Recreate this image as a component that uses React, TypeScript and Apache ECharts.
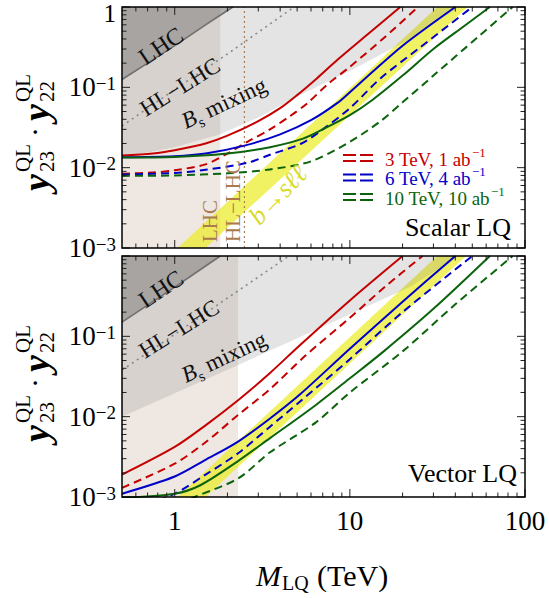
import React, { useEffect, useRef } from 'react';
import * as echarts from 'echarts';

const FONT = "'Liberation Serif', 'Times New Roman', serif";

const X_MIN = 0.5;
const X_MAX = 100;
const Y_MIN = 0.001;
const Y_MAX = 1;

// tick positions
const xMajorTicks = [1, 10, 100];
const xMinorTicks = [0.6, 0.7, 0.8, 0.9, 2, 3, 4, 5, 6, 7, 8, 9, 20, 30, 40, 50, 60, 70, 80, 90];
const yMajorTicks = [0.001, 0.01, 0.1, 1];
const yMinorTicks = [
  0.002, 0.003, 0.004, 0.005, 0.006, 0.007, 0.008, 0.009,
  0.02, 0.03, 0.04, 0.05, 0.06, 0.07, 0.08, 0.09,
  0.2, 0.3, 0.4, 0.5, 0.6, 0.7, 0.8, 0.9,
];

// ---------- Scalar LQ (top panel) ----------
const scalarLhcBandEdge = 1.82;
const scalarHlLhcMass = 2.5;
const scalarLhc = [[0.5, 0.125], [1, 0.33], [1.5, 0.6], [2.15, 1]];
const scalarHlLhc = [[0.5, 0.033], [1, 0.094], [2, 0.26], [4.8, 1]];
const scalarBs = [[0.5, 0.0135], [1, 0.018], [1.82, 0.026], [3, 0.042], [5.2, 0.08], [10, 0.16], [22, 0.4], [42, 1]];
const scalarBsllUpper = [[1.04, 0.001], [31.5, 1]];
const scalarBsllLower = [[1.5, 0.001], [47, 1]];
const scalar3Solid = [[0.5, 0.0142], [0.75, 0.015], [1, 0.0165], [1.5, 0.02], [2, 0.025], [3, 0.038], [4, 0.055], [5, 0.08], [6.5, 0.13], [8.5, 0.22], [13, 0.48], [19.4, 1]];
const scalar3Dashed = [[0.5, 0.0084], [0.75, 0.0087], [1, 0.0093], [1.5, 0.011], [2, 0.015], [2.6, 0.021], [3.5, 0.03], [4.5, 0.043], [5.7, 0.063], [7.5, 0.11], [10, 0.18], [16, 0.43], [24.5, 1]];
const scalar6Solid = [[0.5, 0.0135], [1, 0.0139], [1.5, 0.015], [2.5, 0.0188], [4, 0.026], [6, 0.039], [8.5, 0.064], [10, 0.087], [13, 0.145], [20, 0.33], [40, 1]];
const scalar6Dashed = [[0.5, 0.0082], [1, 0.0086], [1.5, 0.0094], [2.6, 0.0115], [3.5, 0.0145], [5.3, 0.02], [7, 0.03], [10, 0.055], [15, 0.13], [25, 0.31], [50, 1]];
const scalar10Solid = [[0.5, 0.0134], [1, 0.0136], [2, 0.015], [3.5, 0.018], [5.4, 0.023], [7, 0.03], [10, 0.045], [13.5, 0.07], [20, 0.14], [30, 0.3], [45, 0.58], [63, 1]];
const scalar10Dashed = [[0.5, 0.0079], [1, 0.008], [2, 0.0085], [3.5, 0.0095], [6, 0.012], [10, 0.021], [15, 0.038], [20, 0.065], [30, 0.14], [55, 0.44], [85, 1]];

// ---------- Vector LQ (bottom panel) ----------
const vectorLhcBandEdge = 2.3;
const vectorLhc = [[0.5, 0.15], [1, 0.41], [1.82, 1]];
const vectorHlLhc = [[0.5, 0.038], [1, 0.106], [2, 0.3], [4.5, 1]];
const vectorBs = [[0.5, 0.01], [2.3, 0.044], [5.2, 0.098], [22, 0.41], [42, 1]];
const vectorBsllUpper = [[1.04, 0.001], [31.5, 1]];
const vectorBsllLower = [[1.5, 0.001], [46, 1]];
const vector3Solid = [[0.5, 0.0019], [1, 0.0042], [1.5, 0.0078], [2.3, 0.016], [3.5, 0.035], [5.2, 0.078], [10, 0.28], [20, 1]];
const vector3Dashed = [[0.5, 0.0013], [1, 0.0026], [1.5, 0.0048], [2.3, 0.0105], [3.5, 0.022], [5.6, 0.058], [10, 0.17], [16, 0.42], [26, 1]];
const vector6Solid = [[0.5, 0.0011], [1, 0.0018], [1.5, 0.0029], [2.3, 0.0049], [3.5, 0.0095], [5.2, 0.019], [10, 0.07], [20, 0.27], [40, 1]];
const vector6Dashed = [[0.5, 0.0006], [1, 0.0011], [1.5, 0.0019], [2.3, 0.0035], [3.5, 0.0075], [5.3, 0.016], [10, 0.052], [20, 0.2], [50, 1]];
const vector10Solid = [[0.5, 0.00098], [1, 0.0011], [1.4, 0.0014], [2.3, 0.0028], [3.5, 0.0054], [6.4, 0.014], [10, 0.03], [15.6, 0.065], [30, 0.22], [63, 1]];
const vector10Dashed = [[0.9, 0.0007], [1.3, 0.001], [2.3, 0.0017], [3.5, 0.0036], [6.4, 0.0085], [10, 0.02], [20, 0.065], [40, 0.25], [85, 1]];

// legend
const legendLabels = ['3 TeV, 1 ab', '6 TeV, 4 ab', '10 TeV, 10 ab'];
const xTickLabels = ['1', '10', '100'];

const RED = '#c40000';
const BLUE = '#0000c8';
const GREEN = '#0b640b';
const BEIGE = '#efe8e2';
const YELLOW = 'rgba(236,236,40,0.72)';
const GRAY = 'rgba(128,128,128,0.21)';
const DARK = 'rgba(90,90,90,0.38)';
const BROWN = '#a97b4e';

function measure(text: string, font: string, fallbackEm: number, size: number): number {
  try {
    const ctx = document.createElement('canvas').getContext('2d');
    if (ctx) {
      ctx.font = font;
      return ctx.measureText(text).width;
    }
  } catch (e) {
    /* ignore */
  }
  return fallbackEm * size;
}

function regionRender(bandEdge: number, bsllU: number[][], bsllL: number[][], bs: number[][], lhc: number[][]) {
  return (params: any, api: any) => {
    const c = (p: number[]) => api.coord(p);
    return {
      type: 'group',
      children: [
        { type: 'polygon', shape: { points: [[X_MIN, Y_MIN], [bandEdge, Y_MIN], [bandEdge, Y_MAX], [X_MIN, Y_MAX]].map(c) }, style: { fill: BEIGE } },
        { type: 'polygon', shape: { points: [...bsllU, ...bsllL.slice().reverse()].map(c) }, style: { fill: YELLOW } },
        { type: 'polygon', shape: { points: [[X_MIN, Y_MAX], ...bs].map(c) }, style: { fill: GRAY } },
        { type: 'polygon', shape: { points: [[X_MIN, Y_MAX], ...lhc].map(c) }, style: { fill: DARK } },
      ],
    };
  };
}

function tickRender(params: any, api: any) {
  const children: any[] = [];
  const add = (x1: number, y1: number, x2: number, y2: number) =>
    children.push({ type: 'line', shape: { x1, y1, x2, y2 }, style: { stroke: '#222', lineWidth: 1 } });
  const xt = (v: number, len: number) => {
    const b = api.coord([v, Y_MIN]);
    const t = api.coord([v, Y_MAX]);
    add(b[0], b[1], b[0], b[1] - len);
    add(t[0], t[1], t[0], t[1] + len);
  };
  const yt = (v: number, len: number) => {
    const l = api.coord([X_MIN, v]);
    const r = api.coord([X_MAX, v]);
    add(l[0], l[1], l[0] + len, l[1]);
    add(r[0], r[1], r[0] - len, r[1]);
  };
  xMajorTicks.forEach((v) => xt(v, 8));
  xMinorTicks.forEach((v) => xt(v, 4.5));
  yMajorTicks.forEach((v) => yt(v, 8));
  yMinorTicks.forEach((v) => yt(v, 4.5));
  const c1 = api.coord([X_MIN, Y_MAX]);
  const c2 = api.coord([X_MAX, Y_MIN]);
  children.push({
    type: 'rect',
    shape: { x: c1[0], y: c1[1], width: c2[0] - c1[0], height: c2[1] - c1[1] },
    style: { fill: 'none', stroke: '#000', lineWidth: 1.5 },
  });
  return { type: 'group', children };
}

function line(data: number[][], color: string, dashed: boolean, gi: number, width = 2, smooth: number | boolean = 0.3) {
  return {
    type: 'line',
    xAxisIndex: gi,
    yAxisIndex: gi,
    data,
    symbol: 'none',
    smooth,
    lineStyle: { color, width, type: dashed ? [8, 5] : 'solid', join: 'round' },
    z: 3,
    silent: true,
  };
}

const yLabelFormatter = (hideTop: boolean) => (v: number) => {
  const e = Math.log10(v);
  const r = Math.round(e);
  if (Math.abs(e - r) > 1e-6) return '';
  if (r === 0) return hideTop ? '' : '{z| }\n{o|1}';
  return `{b|10}{s|\u2212${-r}}`;
};

const xLabelFormatter = (v: number) => {
  const e = Math.log10(v);
  const r = Math.round(e);
  if (Math.abs(e - r) > 1e-6) return '';
  const idx = xMajorTicks.findIndex((t) => Math.abs(t - v) / t < 1e-6);
  return idx >= 0 ? xTickLabels[idx] : '';
};

const yRich = {
  b: { fontSize: 27, fontFamily: FONT, color: '#000', lineHeight: 27, padding: [9, 0, 0, 0], verticalAlign: 'bottom' },
  s: { fontSize: 19, fontFamily: FONT, color: '#000', lineHeight: 19, verticalAlign: 'top' },
  o: { fontSize: 25, fontFamily: FONT, color: '#000', lineHeight: 25 },
  z: { fontSize: 6, fontFamily: FONT, color: '#000', lineHeight: 13 },
};

function xAxisCfg(gi: number, showLabels: boolean) {
  return {
    type: 'log',
    gridIndex: gi,
    min: X_MIN,
    max: X_MAX,
    logBase: 10,
    axisLine: { show: false },
    axisTick: { show: false },
    splitLine: { show: false },
    minorTick: { show: false },
    axisLabel: {
      show: showLabels,
      formatter: xLabelFormatter,
      fontSize: 27,
      fontFamily: FONT,
      color: '#000',
      margin: 10,
      showMinLabel: false,
      showMaxLabel: true,
    },
  };
}

function yAxisCfg(gi: number, hideTop: boolean) {
  return {
    type: 'log',
    gridIndex: gi,
    min: Y_MIN,
    max: Y_MAX,
    logBase: 10,
    axisLine: { show: false },
    axisTick: { show: false },
    splitLine: { show: false },
    minorTick: { show: false },
    axisLabel: {
      formatter: yLabelFormatter(hideTop),
      rich: yRich,
      margin: 6,
      showMinLabel: true,
      showMaxLabel: true,
    },
  };
}

function yTitle(cy: number, sub1: string, sub2: string) {
  const yFont = `italic bold 38px ${FONT}`;
  const sFont = `21px ${FONT}`;
  const W = 118;
  const x0 = -W / 2;
  const mk = (text: string, x: number, y: number, font: string) => ({
    type: 'text',
    x,
    y,
    style: { text, font, fill: '#000', align: 'left', verticalAlign: 'middle', textAlign: 'left', textVerticalAlign: 'middle' },
  });
  return {
    type: 'group',
    x: 36,
    y: cy,
    rotation: Math.PI / 2,
    children: [
      mk('y', x0, 0, yFont),
      mk('QL', x0 + 19, -13, sFont),
      mk(sub1, x0 + 19, 11, sFont),
      mk('\u00b7', x0 + 54, -2, `30px ${FONT}`),
      mk('y', x0 + 70, 0, yFont),
      mk('QL', x0 + 89, -13, sFont),
      mk(sub2, x0 + 89, 11, sFont),
    ],
  };
}

function txt(text: string, x: number, y: number, font: string, fill: string, rot = 0, align = 'center', lineHeight?: number) {
  const style: any = { text, font, fill, align, verticalAlign: 'middle', textAlign: align, textVerticalAlign: 'middle' };
  if (lineHeight) style.lineHeight = lineHeight;
  return { type: 'text', x, y, rotation: rot, z: 10, style };
}

function bsLabel(x: number, y: number) {
  return {
    type: 'text',
    x,
    y,
    rotation: (25 * Math.PI) / 180,
    z: 10,
    style: {
      text: '{i|B}{s|s}{n| mixing}',
      align: 'center',
      verticalAlign: 'middle',
      textAlign: 'center',
      textVerticalAlign: 'middle',
      fill: '#111',
      rich: {
        i: { fontSize: 23, fontFamily: FONT, fontStyle: 'italic', fill: '#111', lineHeight: 23, verticalAlign: 'bottom' },
        s: { fontSize: 15, fontFamily: FONT, fill: '#111', lineHeight: 15, verticalAlign: 'bottom', padding: [0, 0, -4, 0] },
        n: { fontSize: 23, fontFamily: FONT, fill: '#111', lineHeight: 23, verticalAlign: 'bottom' },
      },
    },
  };
}

function legend() {
  const colors = [RED, BLUE, GREEN];
  const ys = [158, 177.5, 197];
  const fs = 19;
  const font = `${fs}px ${FONT}`;
  const els: any[] = [];
  legendLabels.forEach((lab, i) => {
    const y = ys[i];
    const c = colors[i];
    const w = measure(lab, font, 4.6, fs);
    els.push({ type: 'line', z: 10, shape: { x1: 343, y1: y - 3, x2: 373, y2: y - 3 }, style: { stroke: c, lineWidth: 2, lineDash: [13, 4] } });
    els.push({ type: 'line', z: 10, shape: { x1: 343, y1: y + 3, x2: 373, y2: y + 3 }, style: { stroke: c, lineWidth: 2, lineDash: [13, 4] } });
    els.push(txt(lab, 385, y + 1, font, c, 0, 'left', 17));
    els.push(txt('\u22121', 385 + w + 1, y - 6, `13px ${FONT}`, c, 0, 'left', 12));
  });
  return els;
}

function xTitle() {
  return {
    type: 'group',
    children: [
      txt('M', 256, 575, `italic 30px ${FONT}`, '#000', 0, 'left'),
      txt('LQ', 282, 583, `20px ${FONT}`, '#000', 0, 'left'),
      txt('(TeV)', 317, 575, `30px ${FONT}`, '#000', 0, 'left'),
    ],
  };
}

const option: any = {
  animation: false,
  backgroundColor: '#fff',
  textStyle: { fontFamily: FONT },
  grid: [
    { left: 122, top: 7, width: 403, height: 241, outerBoundsMode: 'none', containLabel: false },
    { left: 122, top: 256, width: 403, height: 241, outerBoundsMode: 'none', containLabel: false },
  ],
  xAxis: [xAxisCfg(0, false), xAxisCfg(1, true)],
  yAxis: [yAxisCfg(0, false), yAxisCfg(1, true)],
  series: [
    {
      type: 'custom', xAxisIndex: 0, yAxisIndex: 0, data: [[1, 0.01]], z: 1, silent: true, clip: true,
      renderItem: regionRender(scalarLhcBandEdge, scalarBsllUpper, scalarBsllLower, scalarBs, scalarLhc),
    },
    {
      type: 'custom', xAxisIndex: 1, yAxisIndex: 1, data: [[1, 0.01]], z: 1, silent: true, clip: true,
      renderItem: regionRender(vectorLhcBandEdge, vectorBsllUpper, vectorBsllLower, vectorBs, vectorLhc),
    },
    line(scalarLhc, '#707070', false, 0, 1.6, 0.2),
    { ...line(scalarHlLhc, '#888888', false, 0, 1.6, false), lineStyle: { color: '#888', width: 1.6, type: [2, 4] } },
    { ...line([[scalarHlLhcMass, Y_MIN], [scalarHlLhcMass, Y_MAX]], BROWN, false, 0, 1.2, false), lineStyle: { color: BROWN, width: 1.2, type: [2, 3] } },
    line(vectorLhc, '#707070', false, 1, 1.6, 0.2),
    { ...line(vectorHlLhc, '#888888', false, 1, 1.6, false), lineStyle: { color: '#888', width: 1.6, type: [2, 4] } },
    line(scalar3Solid, RED, false, 0),
    line(scalar3Dashed, RED, true, 0),
    line(scalar6Solid, BLUE, false, 0),
    line(scalar6Dashed, BLUE, true, 0),
    line(scalar10Solid, GREEN, false, 0),
    line(scalar10Dashed, GREEN, true, 0),
    line(vector3Solid, RED, false, 1),
    line(vector3Dashed, RED, true, 1),
    line(vector6Solid, BLUE, false, 1),
    line(vector6Dashed, BLUE, true, 1),
    line(vector10Solid, GREEN, false, 1),
    line(vector10Dashed, GREEN, true, 1),
    { type: 'custom', xAxisIndex: 0, yAxisIndex: 0, data: [[1, 0.01]], z: 6, silent: true, clip: false, renderItem: tickRender },
    { type: 'custom', xAxisIndex: 1, yAxisIndex: 1, data: [[1, 0.01]], z: 6, silent: true, clip: false, renderItem: tickRender },
  ],
  graphic: [
    // top panel annotations
    txt('LHC', 161, 46, `24px ${FONT}`, '#111', (34 * Math.PI) / 180),
    txt('HL\u2212LHC', 180, 87, `23px ${FONT}`, '#111', (32 * Math.PI) / 180),
    bsLabel(224, 103),
    txt('LHC', 210, 242, `21px ${FONT}`, BROWN, Math.PI / 2, 'left'),
    txt('HL\u2212LHC', 233, 242, `21px ${FONT}`, BROWN, Math.PI / 2, 'left'),
    txt('b\u2192s\u2113\u2113', 278, 195, `italic 26px ${FONT}`, '#dada28', (46 * Math.PI) / 180),
    ...legend(),
    txt('Scalar LQ', 511, 227, `26px ${FONT}`, '#000', 0, 'right'),
    // bottom panel annotations
    txt('LHC', 161, 289, `24px ${FONT}`, '#111', (34 * Math.PI) / 180),
    txt('HL\u2212LHC', 179, 329, `23px ${FONT}`, '#111', (32 * Math.PI) / 180),
    bsLabel(224, 357),
    txt('Vector LQ', 517, 473, `26px ${FONT}`, '#000', 0, 'right'),
    // axis titles
    yTitle(132, '23', '22'),
    yTitle(383, '23', '22'),
    xTitle(),
  ],
};

export default function App() {
  const ref = useRef<HTMLDivElement>(null);
  useEffect(() => {
    const chart = echarts.init(ref.current as HTMLDivElement, null, { renderer: 'svg' });
    chart.setOption(option);
    return () => chart.dispose();
  }, []);
  return <div ref={ref} style={{ position: 'absolute', left: 0, top: 0, width: 549, height: 598 }} />;
}
